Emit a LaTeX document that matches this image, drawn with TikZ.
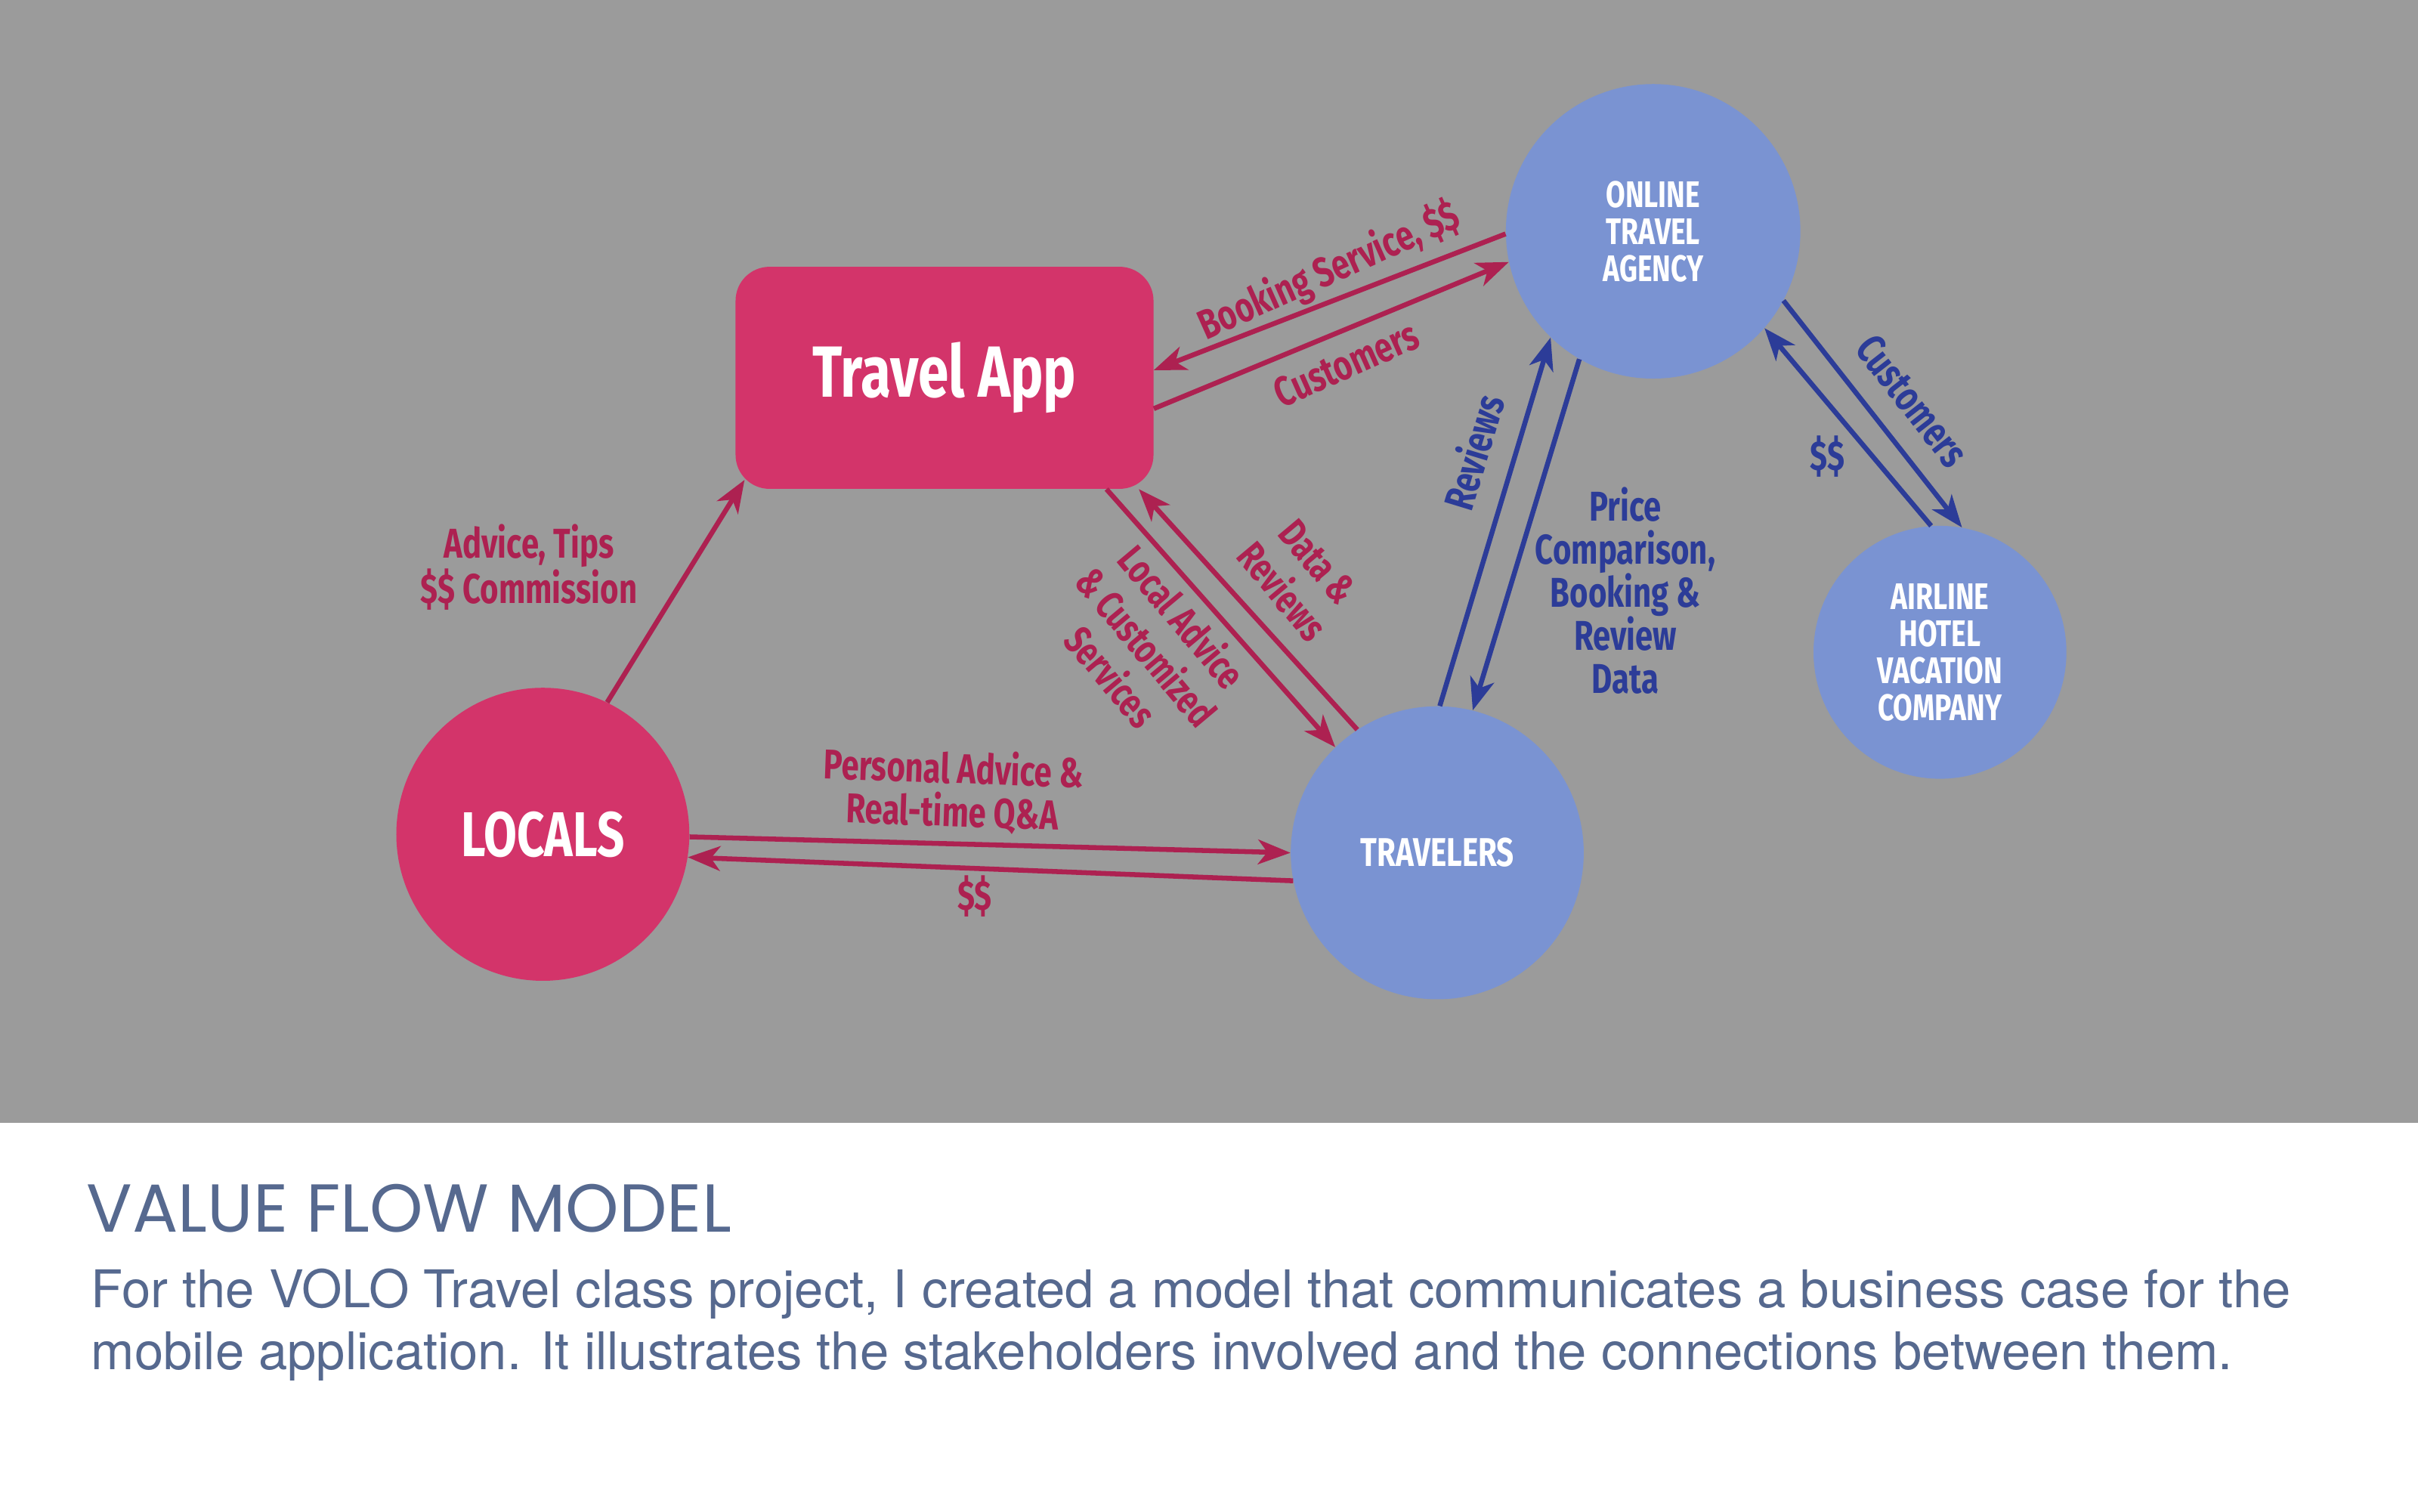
\documentclass[tikz,border=0pt]{standalone}
\usepackage{fontspec}
\setmainfont{TeX Gyre Heros}
\newfontfamily\condfont[FakeStretch=0.76]{Fira Sans}
\newfontfamily\headfont{Poppins}
\usetikzlibrary{arrows.meta}
\definecolor{appPink}{HTML}{D3346A}
\definecolor{flowRed}{HTML}{AD2151}
\definecolor{nodeBlue}{HTML}{7A93D2}
\definecolor{flowBlue}{HTML}{2C3C98}
\definecolor{bgGray}{HTML}{9B9B9B}
\definecolor{capBlue}{HTML}{56698F}

\begin{document}
\begin{tikzpicture}[x=1pt,y=-1pt,
  pinkbox/.style={fill=appPink,rounded corners=22pt,minimum width=271pt,minimum height=144pt,text=white},
  pinkdot/.style={circle,fill=appPink,text=white,inner sep=0pt},
  bluedot/.style={circle,fill=nodeBlue,text=white,inner sep=0pt,align=center,
    font=\condfont\bfseries\fontsize{24}{24}\selectfont},
  redflow/.style={draw=flowRed,line width=3.2pt,-{Stealth[length=21pt,width=16pt,inset=6pt]}},
  blueflow/.style={draw=flowBlue,line width=3.2pt,-{Stealth[length=21pt,width=16pt,inset=6pt]}},
  redlbl/.style={text=flowRed,align=center,inner sep=0pt,
    font=\condfont\bfseries\fontsize{27}{28}\selectfont},
  tiltlbl/.style={redlbl,font=\condfont\bfseries\fontsize{26}{30}\selectfont},
  bluelbl/.style={redlbl,text=flowBlue}]
  \useasboundingbox (0,0) rectangle (1568,980);
  \fill[white] (0,0) rectangle (1568,980);
  \fill[bgGray] (0,0) rectangle (1568,728);
  % stakeholders
  \node[pinkbox,font=\condfont\bfseries\fontsize{47}{48}\selectfont] (app) at (612.5,245) {Travel App};
  \node[pinkdot,minimum size=190pt,font=\condfont\bfseries\fontsize{41}{42}\selectfont] (locals) at (352,541) {LOCALS};
  \node[bluedot,minimum size=190pt,font=\condfont\bfseries\fontsize{26}{26}\selectfont] (travelers) at (932,553) {TRAVELERS};
  \node[bluedot,minimum size=191pt] (ota) at (1072,150) {ONLINE\\TRAVEL\\AGENCY};
  \node[bluedot,minimum size=164pt] (airline) at (1258,423) {AIRLINE\\HOTEL\\VACATION\\COMPANY};
  % value flows
  \draw[redflow] (locals.64) -- ([shift={(6pt,6pt)}]app.south west);
  \draw[redflow] (ota.181) -- ([yshift=5pt]app.east);
  \draw[redflow] ([yshift=-20pt]app.east) -- (ota.192);
  \draw[redflow] ([xshift=105pt]app.south) -- (travelers.134);
  \draw[redflow] (travelers.123) -- ([xshift=126pt]app.south);
  \draw[redflow] (locals.-1) -- (travelers.180);
  \draw[redflow] (travelers.191) -- (locals.-9);
  \draw[blueflow] (travelers.89) -- (ota.226);
  \draw[blueflow] (ota.240) -- (travelers.76);
  \draw[blueflow] (ota.332) -- (airline.80);
  \draw[blueflow] (airline.94) -- (ota.319);
  % flow labels
  \node[redlbl,rotate=24] (booking) at (862,176) {Booking Service, \$\$};
  \node[redlbl,rotate=24] (custapp) at (873,236) {Customers};
  \node[redlbl] (tips) at (343,368) {Advice, Tips\\\$\$ Commission};
  \node[tiltlbl,rotate=-50] (advice) at (744,419) {Local Advice\\\& Customized\\Services};
  \node[tiltlbl,rotate=-50] (data) at (843,374) {Data \&\\Reviews};
  \node[redlbl,rotate=-2] (personal) at (618,513) {Personal Advice \&\\Real-time Q\&A};
  \node[redlbl] (paylocal) at (632,581) {\$\$};
  \node[bluelbl,rotate=73] (reviews) at (955,293) {Reviews};
  \node[bluelbl] (price) at (1054,383) {Price\\Comparison,\\Booking \&\\Review\\Data};
  \node[bluelbl,rotate=-52] (custota) at (1240,260) {Customers};
  \node[bluelbl] (payota) at (1185,296) {\$\$};
  % caption
  \node[anchor=base west,inner sep=0pt,text=capBlue,font=\headfont\fontsize{44}{46}\selectfont] (title) at (56,799) {VALUE FLOW MODEL};
  \node[anchor=base west,inner sep=0pt,text=capBlue,font=\fontsize{33.7}{40}\selectfont] (line1) at (59,848) {For the VOLO Travel class project, I created a model that communicates a business case for the};
  \node[anchor=base west,inner sep=0pt,text=capBlue,font=\fontsize{33.7}{40}\selectfont] (line2) at (59,888) {mobile application. It illustrates the stakeholders involved and the connections between them.};
\end{tikzpicture}
\end{document}
